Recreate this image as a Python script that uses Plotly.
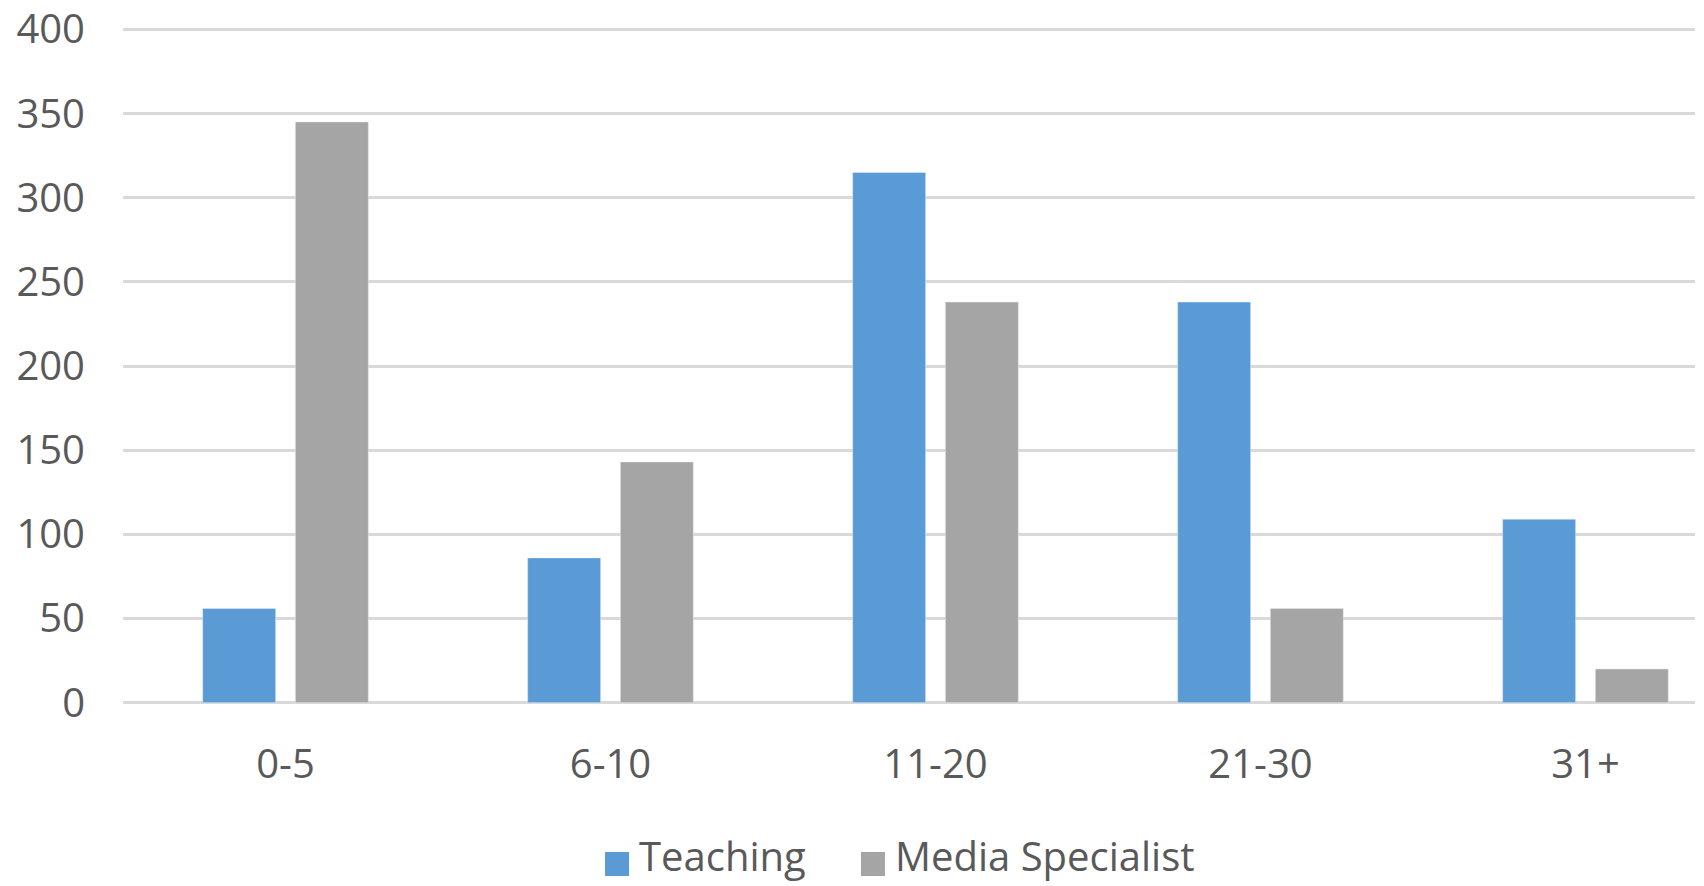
import plotly.graph_objects as go

categories = ["0-5", "6-10", "11-20", "21-30", "31+"]
teaching = [56, 86, 315, 238, 109]
media_specialist = [345, 143, 238, 56, 20]
y_ticks = [0, 50, 100, 150, 200, 250, 300, 350, 400]
series_names = ["Teaching", "Media Specialist"]
series_colors = ["#5B9BD5", "#A5A5A5"]

FONT = "Open Sans"
TXT = "#595959"
FS = 40

W, H = 1704, 886
ML, MR, MT, MB = 123, 9, 26, 180

fig = go.Figure()
for name, vals, col in zip(series_names, [teaching, media_specialist], series_colors):
    fig.add_trace(go.Bar(name=name, x=categories, y=vals, marker=dict(color=col),
                         showlegend=False))

# custom legend (large square swatches like the original)
pw, ph = W - ML - MR, H - MT - MB
def px_x(p):
    return (p - ML) / pw
def px_y(p):
    return (H - MB - p) / ph

legend_items = [(605, 638), (861, 894)]
for (sx, tx), name, col in zip(legend_items, series_names, series_colors):
    fig.add_shape(type="rect", xref="paper", yref="paper",
                  x0=px_x(sx), x1=px_x(sx + 24), y0=px_y(876), y1=px_y(852),
                  fillcolor=col, line=dict(width=0))
    fig.add_annotation(text=name, xref="paper", yref="paper", x=px_x(tx), y=px_y(884),
                       xanchor="left", yanchor="bottom", showarrow=False, borderpad=0,
                       font=dict(family=FONT, size=FS, color=TXT))

fig.update_layout(
    width=W, height=H,
    margin=dict(l=ML, r=MR, t=MT, b=MB, autoexpand=False),
    paper_bgcolor="white", plot_bgcolor="white",
    barmode="group", bargap=0.4296, bargroupgap=0.2125,
    font=dict(family=FONT, size=FS, color=TXT),
    showlegend=False,
)
fig.update_xaxes(type="category", range=[-0.5, 4.337], showgrid=False, zeroline=False,
                 showline=False, ticks="", ticklabelstandoff=31, automargin=False,
                 tickfont=dict(family=FONT, size=FS, color=TXT))
fig.update_yaxes(range=[-2, 402], tickvals=y_ticks, showgrid=True, gridcolor="#D9D9D9",
                 gridwidth=3, zeroline=False, showline=False, ticks="",
                 ticklabelstandoff=37, automargin=False,
                 tickfont=dict(family=FONT, size=FS, color=TXT))

fig.write_html("out.html")
